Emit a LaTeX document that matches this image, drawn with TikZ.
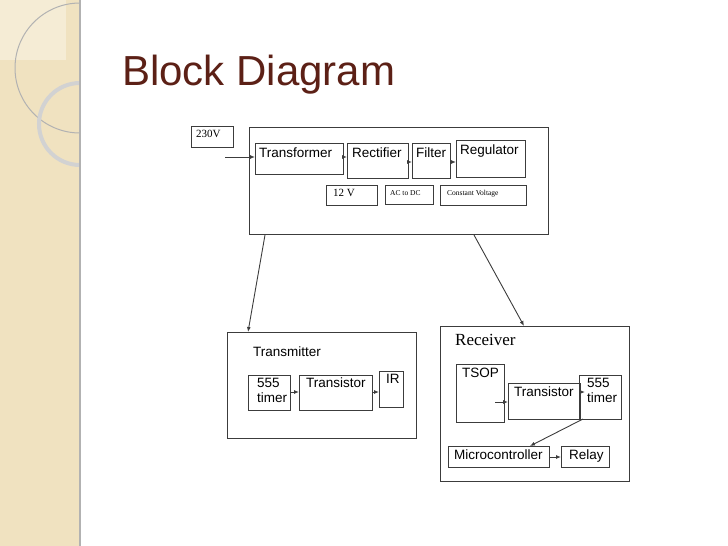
\documentclass[tikz,border=0pt]{standalone}
\usepackage{fontspec}
\setmainfont{Liberation Sans}
\newfontfamily\seriffont{Liberation Serif}
\usetikzlibrary{arrows.meta}
\definecolor{bandcol}{RGB}{240,226,192}
\definecolor{titlecol}{RGB}{92,32,22}
\definecolor{boxcol}{RGB}{60,60,60}
\tikzset{
  blk/.style={draw=boxcol,line width=1pt,inner sep=0pt,anchor=north west},
  lbl/.style={font=\fontsize{13.5}{15}\selectfont,anchor=north west,inner sep=0pt},
  slbl/.style={font=\seriffont\fontsize{11}{12}\selectfont,anchor=north west,inner sep=0pt},
  tlbl/.style={font=\seriffont\fontsize{7.5}{8}\selectfont,anchor=north west,inner sep=0pt},
  arr/.style={-{Latex[length=5pt,width=4pt]},draw=boxcol,line width=0.9pt}
}
\begin{document}
\begin{tikzpicture}[x=1pt,y=-1pt]
  \useasboundingbox (0,0) rectangle (728,546);
  % side band
  \fill[bandcol] (0,0) rectangle (80,546);
  \begin{scope}
    \clip (0,0) rectangle (80,546);
    \fill[white,opacity=0.35] (0,0) rectangle (66,60);
    \draw[gray!60,line width=1pt] (80,68) circle[radius=65];
    \draw[gray!35,line width=4pt] (80,124) circle[radius=41];
  \end{scope}
  \draw[gray!60,line width=1.2pt] (80,0) -- (80,546);
  % title
  \node[font=\fontsize{42}{46}\selectfont,text=titlecol,anchor=base west,inner sep=0pt] (title) at (122,85) {Block Diagram};
  % power supply
  \node[blk,minimum width=42pt,minimum height=21pt] (vin) at (191,126) {};
  \node[slbl] at (196,130) {230V};
  \node[blk,minimum width=299pt,minimum height=107pt] (power) at (249,127) {};
  \node[blk,minimum width=88pt,minimum height=31pt] (trafo) at (255,143) {};
  \node[lbl] at (259,148) {Transformer};
  \node[blk,minimum width=61pt,minimum height=35pt] (rect) at (347,143) {};
  \node[lbl] at (352,148) {Rectifier};
  \node[blk,minimum width=38pt,minimum height=35pt] (filt) at (412,143) {};
  \node[lbl] at (416,148) {Filter};
  \node[blk,minimum width=69pt,minimum height=37pt] (reg) at (456,140) {};
  \node[lbl] at (460,145) {Regulator};
  \node[blk,minimum width=51pt,minimum height=20pt] (volt) at (326,185) {};
  \node[slbl] at (333,189) {12 V};
  \node[blk,minimum width=48pt,minimum height=19pt] (acdc) at (385,185) {};
  \node[tlbl] at (390,190) {AC to DC};
  \node[blk,minimum width=86pt,minimum height=20pt] (const) at (440,185) {};
  \node[tlbl] at (447,190) {Constant Voltage};
  \coordinate (in) at (225,157);
  \draw[arr] (in) -- (trafo.west |- in);
  \draw[arr] (trafo.east |- 0,157) -- (rect.west |- 0,157);
  \draw[arr] (rect.east |- 0,162) -- (filt.west |- 0,162);
  \draw[arr] (filt.east |- 0,162) -- (reg.west |- 0,162);
  % transmitter
  \node[blk,minimum width=189pt,minimum height=106pt] (tx) at (227,332) {};
  \node[lbl] at (253,347) {Transmitter};
  \node[blk,minimum width=42pt,minimum height=35pt,align=center] (ttimer) at (248,375) {};
  \node[lbl,align=left] at (257,378) {555\\timer};
  \node[blk,minimum width=73pt,minimum height=35pt] (ttran) at (299,375) {};
  \node[lbl] at (306,378) {Transistor};
  \node[blk,minimum width=24pt,minimum height=36pt] (ir) at (379,371) {};
  \node[lbl] at (386,374) {IR};
  \draw[arr] (ttimer.east |- 0,392) -- (ttran.west |- 0,392);
  \draw[arr] (ttran.east |- 0,392) -- (ir.west |- 0,392);
  % receiver
  \node[blk,minimum width=189pt,minimum height=155pt] (rx) at (440,326) {};
  \node[lbl,font=\seriffont\fontsize{17}{18}\selectfont] at (455,334) {Receiver};
  \node[blk,minimum width=48pt,minimum height=58pt] (tsop) at (456,364) {};
  \node[lbl] at (462,368) {TSOP};
  \node[blk,minimum width=72pt,minimum height=36pt] (rtran) at (508,383) {};
  \node[lbl] at (514,387) {Transistor};
  \node[blk,minimum width=42pt,minimum height=44pt] (rtimer) at (579,375) {};
  \node[lbl,align=left] at (587,378) {555\\timer};
  \node[blk,minimum width=101pt,minimum height=21pt] (mcu) at (448,446) {};
  \node[lbl] at (454,450) {Microcontroller};
  \node[blk,minimum width=48pt,minimum height=21pt] (relay) at (561,446) {};
  \node[lbl] at (569,450) {Relay};
  \coordinate (tsopout) at (495,402);
  \draw[arr] (tsopout) -- (rtran.west |- tsopout);
  \draw[arr] (rtran.east |- 0,392) -- ++(4,0);
  \draw[arr] (583,419) -- (mcu.north -| 530,0);
  \draw[arr] (mcu.east) -- (relay.west);
  % links
  \draw[arr] (power.south -| 265,0) -- (tx.north -| 248,0);
  \draw[arr] (power.south -| 474,0) -- (rx.north -| 524,0);
\end{tikzpicture}
\end{document}
